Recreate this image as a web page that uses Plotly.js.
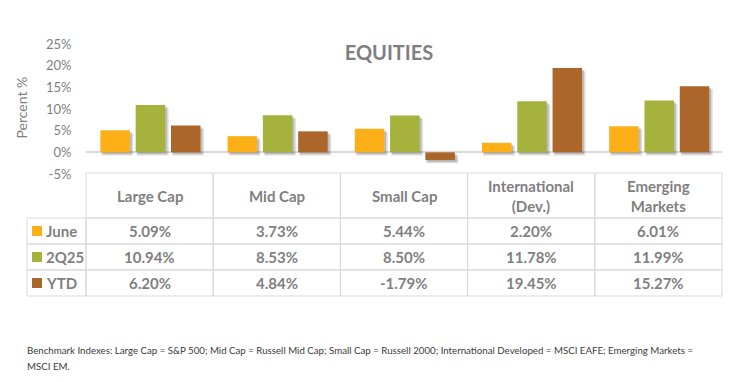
<!DOCTYPE html>
<html>
<head>
<meta charset="utf-8">
<script src="https://cdn.plot.ly/plotly-3.0.1.min.js"></script>
<style>html,body{margin:0;padding:0;background:#fff;}#chart{width:740px;height:382px;}</style>
</head>
<body>
<div id="chart"></div>
<script>
// ---- data ----
const categories = ['Large Cap', 'Mid Cap', 'Small Cap', 'International<br>(Dev.)', 'Emerging<br>Markets'];
const seriesNames = ['June', '2Q25', 'YTD'];
const june = [5.09, 3.73, 5.44, 2.20, 6.01];
const q2 = [10.94, 8.53, 8.50, 11.78, 11.99];
const ytd = [6.20, 4.84, -1.79, 19.45, 15.27];
const yTicks = [-5, 0, 5, 10, 15, 20, 25];
const yTickText = ['-5%', '0%', '5%', '10%', '15%', '20%', '25%'];
const chartTitle = 'EQUITIES';
const yTitle = 'Percent %';
const footnote1 = 'Benchmark Indexes: Large Cap = S&P 500; Mid Cap = Russell Mid Cap; Small Cap = Russell 2000; International Developed = MSCI EAFE; Emerging Markets =';
const footnote2 = 'MSCI EM.';

// ---- styling / layout ----
const series = [june, q2, ytd];
const colors = ['#FDAF17', '#A5B23B', '#AD6629'];
const offsets = [-0.387, -0.1095, 0.168];
const barW = 0.232;
const FONT = 'Lato, "Open Sans", sans-serif';
const GRAY = '#7f7f7f';
const LINE = '#d9d9d9';

const L = 86, T = 44, W = 636, H = 130;
const px = X => (X - L) / W;
const py = Y => (T + H - Y) / H;

const traces = [];
// soft drop shadows
series.forEach((vals, i) => {
  traces.push({
    type: 'bar', x: categories, y: vals, base: -0.75,
    offset: offsets[i] + 1 / 127.2, width: barW + 2.5 / 127.2,
    marker: {color: 'rgba(60,60,60,0.16)', line: {width: 0}},
    showlegend: false, hoverinfo: 'skip'
  });
  traces.push({
    type: 'bar', x: categories, y: vals, base: -0.45,
    offset: offsets[i] + 2 / 127.2, width: barW,
    marker: {color: 'rgba(60,60,60,0.22)', line: {width: 0}},
    showlegend: false, hoverinfo: 'skip'
  });
});
series.forEach((vals, i) => {
  traces.push({
    type: 'bar', x: categories, y: vals, name: seriesNames[i],
    offset: offsets[i], width: barW,
    marker: {color: colors[i], line: {width: 0}},
    showlegend: false
  });
});

const shapes = [];
const annotations = [];
const colX = i => L + i * W / 5;
const headTop = 173, headBot = 218;
const rowEdges = [218, 244, 270, 296];
const legL = 27;

// header cells
categories.forEach((c, i) => {
  shapes.push({type: 'rect', xref: 'paper', yref: 'paper',
    x0: px(colX(i)), x1: px(colX(i + 1)), y0: py(headBot), y1: py(headTop),
    line: {color: LINE, width: 1}, fillcolor: 'rgba(0,0,0,0)', layer: 'below'});
  annotations.push({xref: 'paper', yref: 'paper',
    x: px((colX(i) + colX(i + 1)) / 2), y: py((headTop + headBot) / 2),
    text: '<b>' + c + '</b>', showarrow: false, xanchor: 'center', yanchor: 'middle',
    font: {family: FONT, size: 15, color: GRAY}});
});
// data rows
series.forEach((vals, r) => {
  const y0 = rowEdges[r], y1 = rowEdges[r + 1];
  const yc = (y0 + y1) / 2;
  shapes.push({type: 'rect', xref: 'paper', yref: 'paper',
    x0: px(legL), x1: px(L), y0: py(y1), y1: py(y0),
    line: {color: LINE, width: 1}, fillcolor: 'rgba(0,0,0,0)', layer: 'below'});
  shapes.push({type: 'rect', xref: 'paper', yref: 'paper',
    x0: px(32), x1: px(42), y0: py(yc + 5), y1: py(yc - 5),
    line: {width: 0}, fillcolor: colors[r]});
  annotations.push({xref: 'paper', yref: 'paper', x: px(44), y: py(yc),
    text: '<b>' + seriesNames[r] + '</b>', showarrow: false, xanchor: 'left', yanchor: 'middle',
    font: {family: FONT, size: 15, color: GRAY}});
  vals.forEach((v, i) => {
    shapes.push({type: 'rect', xref: 'paper', yref: 'paper',
      x0: px(colX(i)), x1: px(colX(i + 1)), y0: py(y1), y1: py(y0),
      line: {color: LINE, width: 1}, fillcolor: 'rgba(0,0,0,0)', layer: 'below'});
    annotations.push({xref: 'paper', yref: 'paper',
      x: px((colX(i) + colX(i + 1)) / 2), y: py(yc),
      text: '<b>' + v.toFixed(2) + '%</b>', showarrow: false, xanchor: 'center', yanchor: 'middle',
      font: {family: FONT, size: 15, color: GRAY}});
  });
});
// y-axis title
annotations.push({xref: 'paper', yref: 'paper', x: px(20.5), y: py(108), textangle: -90,
  text: yTitle, showarrow: false, xanchor: 'center', yanchor: 'middle',
  font: {family: FONT, size: 14, color: GRAY}});
// footnote
annotations.push({xref: 'paper', yref: 'paper', x: px(25), y: py(350), text: footnote1,
  showarrow: false, xanchor: 'left', yanchor: 'middle', font: {family: FONT, size: 9.7, color: '#3a3a3a'}});
annotations.push({xref: 'paper', yref: 'paper', x: px(25), y: py(366), text: footnote2,
  showarrow: false, xanchor: 'left', yanchor: 'middle', font: {family: FONT, size: 9.7, color: '#3a3a3a'}});

const layout = {
  width: 740, height: 382,
  margin: {l: L, r: 740 - L - W, t: T, b: 382 - T - H, pad: 0},
  paper_bgcolor: '#ffffff', plot_bgcolor: '#ffffff',
  barmode: 'overlay',
  showlegend: false,
  title: {text: '<b>' + chartTitle + '</b>', x: 389 / 740, xanchor: 'center',
    y: 1 - 52.5 / 382, yanchor: 'middle', yref: 'container', xref: 'container',
    font: {family: FONT, size: 20, color: GRAY}},
  xaxis: {type: 'category', categoryarray: categories, range: [-0.5, 4.5], visible: false, fixedrange: true},
  yaxis: {range: [-5, 25], tickmode: 'array', tickvals: yTicks, ticktext: yTickText, showgrid: false,
    zeroline: true, zerolinecolor: LINE, zerolinewidth: 2, showline: false,
    ticks: 'outside', ticklen: 11, tickcolor: 'rgba(0,0,0,0)',
    tickfont: {family: FONT, size: 13, color: GRAY}, fixedrange: true},
  shapes: shapes,
  annotations: annotations
};

Plotly.newPlot('chart', traces, layout, {staticPlot: true, displayModeBar: false});
</script>
</body>
</html>
